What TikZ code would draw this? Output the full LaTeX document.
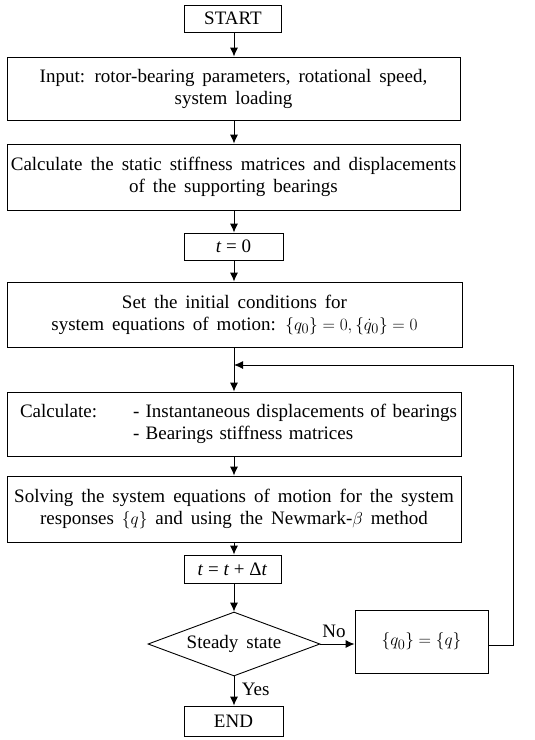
\documentclass[tikz,border=0pt]{standalone}
\usepackage{fontspec}
\setmainfont{Liberation Serif}
\usetikzlibrary{arrows.meta,shapes.geometric}
\newcommand\bxfont{\fontsize{19}{22}\selectfont\spaceskip=0.42em plus 0.1em\relax}
\newcommand\plfont{\fontsize{19}{22}\selectfont}
\begin{document}
\begin{tikzpicture}[x=1pt,y=-1pt,
  box/.style={draw,line width=0.9pt,inner sep=0pt,align=center,font=\bxfont},
  pbox/.style={box,font=\plfont},
  arr/.style={-{Latex[length=9pt,width=8pt]},line width=0.9pt},
  ln/.style={line width=0.9pt},
  lbl/.style={font=\plfont}]
\useasboundingbox (0,0) rectangle (535,740);
\node[pbox,minimum width=97pt,minimum height=27pt] (start) at (233,18.5) {START};
\node[box,minimum width=453pt,minimum height=63pt] (input) at (233.5,88.5) {Input: rotor-bearing parameters, rotational speed,\\system loading};
\node[box,minimum width=453pt,minimum height=66pt] (calc1) at (233.5,177) {Calculate the static stiffness matrices and displacements\\of the supporting bearings};
\node[pbox,minimum width=99pt,minimum height=27pt] (t0) at (233.5,246.5) {\textit{t} = 0};
\node[box,minimum width=455pt,minimum height=65pt] (init) at (234.5,314.5) {Set the initial conditions for\\system equations of motion: $\{q_0\} = 0, \{\dot{q}_0\} = 0$};
\node[pbox,minimum width=454pt,minimum height=64pt,text width=428pt,align=left] (calc2) at (234,424) {\mbox{\makebox[113pt][l]{Calculate:}- Instantaneous displacements of bearings}\\\hspace*{113pt}- Bearings stiffness matrices};
\node[box,minimum width=454pt,minimum height=66pt] (solve) at (234,509) {Solving the system equations of motion for the system\\responses $\{q\}$ and using the Newmark-$\beta$ method};
\node[pbox,minimum width=97pt,minimum height=28pt] (tinc) at (232.5,569) {\textit{t} = \textit{t} + Δ\textit{t}};
\node[box,diamond,aspect=2.69,minimum width=172pt,minimum height=64pt] (dec) at (234,644) {Steady state};
\node[pbox,minimum width=133pt,minimum height=63pt] (q0) at (421.5,641.5) {$\{q_0\} = \{q\}$};
\node[pbox,minimum width=99pt,minimum height=30pt] (end) at (233.5,721) {END};
\coordinate (merge) at (234,365);
\coordinate (rt) at (513,365);
\draw[arr] (start.south -| 234,0) -- (input.north -| 234,0);
\draw[arr] (input.south -| 234,0) -- (calc1.north -| 234,0);
\draw[arr] (calc1.south -| 234,0) -- (t0.north -| 234,0);
\draw[arr] (t0.south -| 234,0) -- (init.north -| 234,0);
\draw[ln] (init.south -| 234,0) -- (merge);
\draw[arr] (merge) -- (calc2.north -| 234,0);
\draw[arr] (calc2.south -| 234,0) -- (solve.north -| 234,0);
\draw[arr] (solve.south -| 234,0) -- (tinc.north -| 234,0);
\draw[arr] (tinc.south -| 234,0) -- (dec.north);
\draw[arr] (dec.east) -- (q0.west |- dec.east) node[lbl,pos=0.4,above,yshift=3pt] (no) {No};
\draw[arr] (dec.south) -- (end.north -| dec.south) node[lbl,pos=0.45,right,xshift=4pt] (yes) {Yes};
\draw[ln] (q0.east |- 0,645) -| (rt);
\draw[arr] (rt) -- (merge);
\end{tikzpicture}
\end{document}
